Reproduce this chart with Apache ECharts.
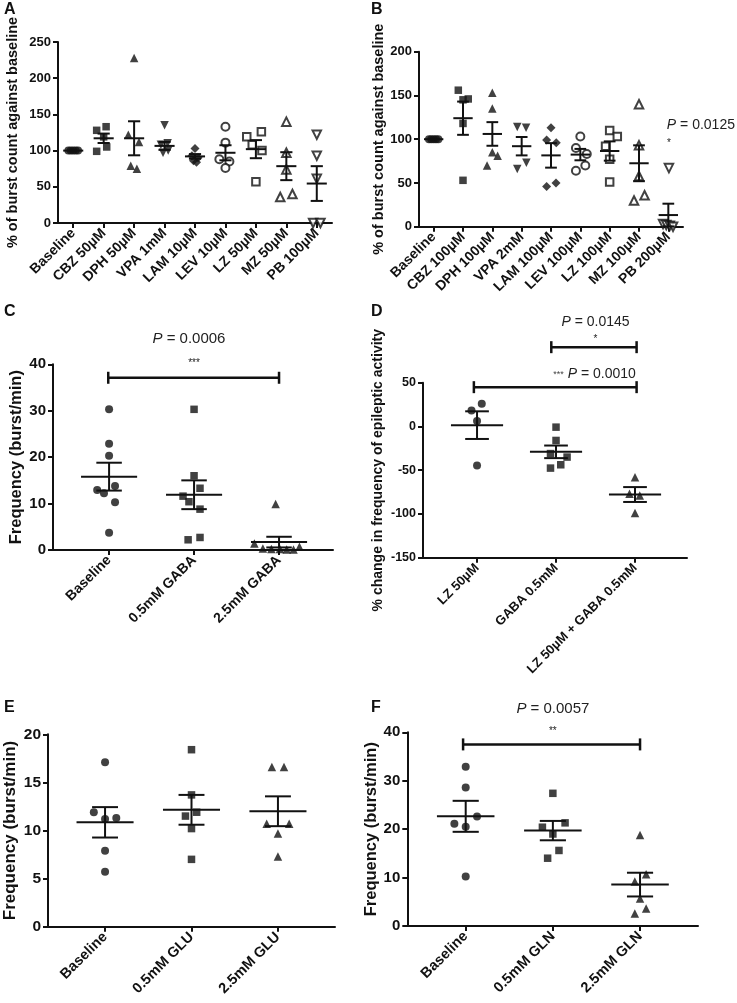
<!DOCTYPE html>
<html><head><meta charset="utf-8">
<script src="https://cdn.jsdelivr.net/npm/echarts@6/dist/echarts.min.js"></script>
<style>html,body{margin:0;padding:0;background:#fff}#c{width:737px;height:1003px}</style>
</head><body><div id="c"></div>
<script>
// ================= DATA =================
// Panel A
const catsA = ['Baseline','CBZ 50µM','DPH 50µM','VPA 1mM','LAM 10µM','LEV 10µM','LZ 50µM','MZ 50µM','PB 100µM'];
const valsA = [
  [100,100,100,100,100],
  [133,128,119,105,99],
  [228,122,112,79,75],
  [135,110,108,100,97],
  [103,93,90,86,84],
  [133,111,88,85,76],
  [126,119,108,100,57],
  [140,97,74,40,36],
  [122,93,61,0,0]
];
const meanA = [100,117,117,106.5,92,97,102,78.5,54.5];
const semA  = [0,6.5,23.5,5.5,3.2,10.4,12.5,19.3,24];
const titleA = '% of burst count against baseline';

// Panel B
const catsB = ['Baseline','CBZ 100µM','DPH 100µM','VPA 2mM','LAM 100µM','LEV 100µM','LZ 100µM','MZ 100µM','PB 200µM'];
const valsB = [
  [100,100,100,100,100],
  [156,145,146,118,53],
  [153,135,85,81,70],
  [114,113,73,66],
  [113,99,96,50,46],
  [103,90,83,70,64],
  [110,103,92,77,51],
  [140,93,58,36,30],
  [67,3,2,1,0]
];
const meanB = [100,124,106,92,81.5,82.4,86.5,72.5,13.3];
const semB  = [0,19,13.5,10.5,14,6.5,11,20.5,13];
const titleB = '% of burst count against baseline';
const pB = '0.0125';

// Panel C
const catsC = ['Baseline','0.5mM GABA','2.5mM GABA'];
const valsC = [
  [30.3,22.9,20.3,13.8,12.9,12.2,10.3,3.7],
  [30.3,16,13.3,11.6,10.4,8.8,2.7,2.2],
  [9.9,1.4,0.7,0.3,0.2,0.2,0.1,0.1]
];
const meanC = [15.8,11.9,1.7];
const semC  = [3.0,3.1,1.15];
const titleC = 'Frequency (burst/min)';
const pC = '0.0006';

// Panel D
const catsD = ['LZ 50µM','GABA 0.5mM','LZ 50µM + GABA 0.5mM'];
const valsD = [
  [25.9,18.3,6.1,-44.5],
  [-0.8,-16,-31,-35,-43.8,-47.6],
  [-58,-77,-79,-99]
];
const meanD = [1.5,-29,-77.8];
const semD  = [15.8,7.2,8.5];
const titleD = '% change in frequency of epileptic activity';
const pD1 = '0.0145', pD2 = '0.0010';

// Panel E
const catsE = ['Baseline','0.5mM GLU','2.5mM GLU'];
const valsE = [
  [17.1,11.9,11.2,11.3,7.9,5.7],
  [18.4,13.7,11.9,11.5,10.2,7.0],
  [16.6,16.6,10.7,10.7,9.7,7.3]
];
const meanE = [10.85,12.15,12.0];
const semE  = [1.58,1.55,1.55];
const titleE = 'Frequency (burst/min)';

// Panel F
const catsF = ['Baseline','0.5mM GLN','2.5mM GLN'];
const valsF = [
  [32.9,28.6,22.6,21.1,20.5,10.2],
  [27.4,21.3,20.4,19.0,15.6,14.0],
  [18.8,10.7,9.2,5.7,3.6,2.6]
];
const meanF = [22.65,19.7,8.55];
const semF  = [3.2,2.0,2.45];
const titleF = 'Frequency (burst/min)';
const pF = '0.0057';

// ================= LAYOUT (horizontal spread of points, positions, styles) =================
const jitA = [
  [-0.16,-0.08,0,0.08,0.16],[0.08,-0.23,0,0.1,-0.23],[0,-0.19,0.16,-0.11,0.09],
  [0,0.1,-0.12,0.12,-0.05],[0,-0.1,0.1,-0.05,0.05],[0,0,-0.2,0.13,0],
  [0.18,-0.3,-0.12,0.2,0],[0,0,0,0.2,-0.2],[0,0,0,-0.12,0.12]
];
const jitB = [
  [-0.16,-0.08,0,0.08,0.16],[-0.16,0,0.18,0,0],[0,0,0,0.18,-0.18],
  [-0.15,0.15,0.16,-0.15],[0,-0.15,0.18,0.17,-0.15],[0,-0.15,0.22,0.17,-0.15],
  [0,0.26,-0.14,0,0],[0,0,0,0.19,-0.17],[0.02,-0.18,-0.07,0.05,0.16]
];
const jitC = [
  [0,0,0,0.07,-0.14,-0.06,0.07,0],
  [0,0,0.07,-0.13,-0.06,0.07,0.07,-0.07],
  [-0.04,-0.29,0.24,-0.19,-0.09,0.01,0.09,0.17]
];
const jitD = [[0.06,-0.07,0,0],[0,0,-0.07,0.14,0.06,-0.07],[0,-0.07,0.06,0]];
const jitE = [[0,-0.13,0,0.13,0,0],[0,0,0.06,-0.07,0,0],[-0.07,0.07,-0.13,0.13,0,0]];
const jitF = [[0,0,0.13,-0.13,0,0],[0,0.14,-0.12,0,0.07,-0.06],[0,0.07,-0.06,0,0.07,-0.06]];

const FF = '"Liberation Sans", Arial, Helvetica, sans-serif';
const INK = '#111';
const SYM9 = ['circle','rect','triangle','triangleDown','diamond','circleO','rectO','triangleO','triangleDownO'];
const SYM3 = ['circle','rect','triangle'];

const panels = [
  {cats:catsA, vals:valsA, mean:meanA, sem:semA, jit:jitA, sym:SYM9, title:titleA,
   grid:{left:58,top:42,width:274,height:181}, x:[-0.5,8.5], y:[0,250,50],
   tickFs:13, catFs:14, nameFs:14.5, nameGap:38, mw:0.33, cw:0.2,
   brackets:[], notes:[]},
  {cats:catsB, vals:valsB, mean:meanB, sem:semB, jit:jitB, sym:SYM9, title:titleB,
   grid:{left:419,top:51.7,width:264,height:175}, x:[-0.5,8.5], y:[0,200,50],
   tickFs:13, catFs:14, nameFs:14.5, nameGap:31, mw:0.33, cw:0.2,
   brackets:[],
   notes:[{x:7.95, y:116, text:'{i|P} = '+pB, fs:14, align:'left'},
          {x:8.02, y:95.5, text:'*', fs:10, align:'center'}]},
  {cats:catsC, vals:valsC, mean:meanC, sem:semC, jit:jitC, sym:SYM3, title:titleC,
   grid:{left:53,top:364.3,width:280,height:185.7}, x:[-0.66,2.635], y:[0,40,10],
   tickFs:15, catFs:14, nameFs:16.5, nameGap:26, mw:0.33, cw:0.15,
   brackets:[[-0.01,2.0,37.1]],
   notes:[{x:1, y:40.2, text:'***', fs:10, align:'center'},
          {x:0.94, y:45.5, text:'{i|P} = '+pC, fs:15, align:'center'}]},
  {cats:catsD, vals:valsD, mean:meanD, sem:semD, jit:jitD, sym:SYM3, title:titleD,
   grid:{left:423,top:382.7,width:264,height:175}, x:[-0.684,2.658], y:[-150,50,50],
   tickFs:12.5, catFs:13, nameFs:14, nameGap:38, mw:0.33, cw:0.15,
   brackets:[[-0.04,2.02,44.9],[0.94,2.02,90.6]],
   notes:[{x:2.01, y:59.4, text:'{s|***} {i|P} = '+pD2, fs:14, align:'right'},
          {x:1.5, y:99.5, text:'*', fs:10, align:'center'},
          {x:1.5, y:119, text:'{i|P} = '+pD1, fs:14, align:'center'}]},
  {cats:catsE, vals:valsE, mean:meanE, sem:semE, jit:jitE, sym:SYM3, title:titleE,
   grid:{left:48,top:734.3,width:287,height:192.4}, x:[-0.66,2.66], y:[0,20,5],
   tickFs:15.5, catFs:14.5, nameFs:17, nameGap:29, mw:0.33, cw:0.15,
   brackets:[], notes:[]},
  {cats:catsF, vals:valsF, mean:meanF, sem:semF, jit:jitF, sym:SYM3, title:titleF,
   grid:{left:407.3,top:732.3,width:290.7,height:193.7}, x:[-0.67,2.665], y:[0,40,10],
   tickFs:15, catFs:14.5, nameFs:16.5, nameGap:27, mw:0.33, cw:0.15,
   brackets:[[-0.03,2.0,37.5]],
   notes:[{x:1, y:40.2, text:'**', fs:10, align:'center'},
          {x:1, y:44.8, text:'{i|P} = '+pF, fs:15, align:'center'}]}
];
const letters = [['A',4,2],['B',371,2],['C',4,304],['D',371,304],['E',4,700],['F',371,700]];

// ================= BUILD =================
function symbolStyle(s) {
  const open = s.endsWith('O');
  const base = open ? s.slice(0,-1) : s;
  let symbol = base, rot = 0, size = 8;
  if (base === 'triangleDown') { symbol = 'triangle'; rot = 180; }
  if (base === 'rect') size = 7.5;
  if (base === 'diamond') size = 9;
  if (base === 'triangle' || base === 'triangleDown') size = 8.5;
  return {symbol, symbolRotate: rot, symbolSize: size,
    itemStyle: open ? {color:'#fff', borderColor:INK, borderWidth:2} : {color:INK, borderWidth:0}};
}

const option = {
  animation:false, backgroundColor:'#fff',
  grid:[], xAxis:[], yAxis:[], series:[],
  graphic: letters.map(([t,l,tp]) => ({type:'text', left:l, top:tp,
    style:{text:t, font:'bold 16px '+FF, fill:INK}}))
};

panels.forEach((p, k) => {
  option.grid.push(Object.assign({}, p.grid));
  const idx = p.cats.map((_, i) => i);
  option.xAxis.push({
    type:'value', gridIndex:k, min:p.x[0], max:p.x[1],
    splitLine:{show:false},
    axisLine:{show:true, onZero:false, lineStyle:{color:INK, width:2}},
    axisTick:{show:true, customValues:idx, length:5, lineStyle:{color:INK, width:2}},
    axisLabel:{customValues:idx, rotate:45, margin:8, formatter:(v)=>p.cats[Math.round(v)],
      fontFamily:FF, fontWeight:'bold', fontSize:p.catFs, color:INK}
  });
  option.yAxis.push({
    type:'value', gridIndex:k, min:p.y[0], max:p.y[1], interval:p.y[2],
    splitLine:{show:false},
    axisLine:{show:true, onZero:false, lineStyle:{color:INK, width:2}},
    axisTick:{show:true, length:5, lineStyle:{color:INK, width:2}},
    axisLabel:{margin:7, fontFamily:FF, fontWeight:'bold', fontSize:p.tickFs, color:INK},
    name:p.title, nameLocation:'middle', nameGap:p.nameGap, nameRotate:90,
    nameTextStyle:{fontFamily:FF, fontWeight:'bold', fontSize:p.nameFs, color:INK}
  });
  // points
  p.vals.forEach((arr, i) => {
    const st = symbolStyle(p.sym[i]);
    option.series.push(Object.assign({
      type:'scatter', xAxisIndex:k, yAxisIndex:k, z:2, silent:true,
      data: arr.map((v, j) => [i + (p.jit[i][j] || 0), v])
    }, st));
  });
  // mean ± SEM
  option.series.push({
    type:'custom', xAxisIndex:k, yAxisIndex:k, z:3, silent:true, clip:false,
    data: p.mean.map((m, i) => [i, m, p.sem[i]]),
    renderItem: (params, api) => {
      const i = api.value(0), m = api.value(1), s = api.value(2);
      const c = api.coord([i, m]);
      const u = api.size([1, 0])[0];
      const st = {stroke:INK, lineWidth:2};
      const ch = [{type:'line', shape:{x1:c[0]-p.mw*u, y1:c[1], x2:c[0]+p.mw*u, y2:c[1]}, style:st}];
      if (s > 0) {
        const hi = api.coord([i, m+s]), lo = api.coord([i, m-s]);
        ch.push({type:'line', shape:{x1:c[0], y1:hi[1], x2:c[0], y2:lo[1]}, style:st});
        ch.push({type:'line', shape:{x1:c[0]-p.cw*u, y1:hi[1], x2:c[0]+p.cw*u, y2:hi[1]}, style:st});
        ch.push({type:'line', shape:{x1:c[0]-p.cw*u, y1:lo[1], x2:c[0]+p.cw*u, y2:lo[1]}, style:st});
      }
      return {type:'group', children:ch};
    }
  });
  // significance brackets
  if (p.brackets.length) option.series.push({
    type:'custom', xAxisIndex:k, yAxisIndex:k, z:4, silent:true, clip:false,
    data: p.brackets,
    renderItem: (params, api) => {
      const a = api.coord([api.value(0), api.value(2)]);
      const b = api.coord([api.value(1), api.value(2)]);
      const st = {stroke:INK, lineWidth:2.5};
      return {type:'group', children:[
        {type:'line', shape:{x1:a[0], y1:a[1], x2:b[0], y2:b[1]}, style:st},
        {type:'line', shape:{x1:a[0], y1:a[1]-6, x2:a[0], y2:a[1]+6}, style:st},
        {type:'line', shape:{x1:b[0], y1:b[1]-6, x2:b[0], y2:b[1]+6}, style:st}
      ]};
    }
  });
  // annotation texts
  if (p.notes.length) option.series.push({
    type:'custom', xAxisIndex:k, yAxisIndex:k, z:4, silent:true, clip:false,
    data: p.notes.map(n => [n.x, n.y]),
    renderItem: (params, api) => {
      const n = p.notes[params.dataIndex];
      const c = api.coord([api.value(0), api.value(1)]);
      return {type:'text', x:c[0], y:c[1], style:{
        text:n.text, fill:'#222', fontFamily:FF, fontSize:n.fs,
        align:n.align, verticalAlign:'middle', textAlign:n.align, textVerticalAlign:'middle',
        rich:{
          i:{fontStyle:'italic', fontFamily:FF, fontSize:n.fs, fill:'#222', color:'#222'},
          s:{fontFamily:FF, fontSize:9, fill:'#444', color:'#444'}
        }
      }};
    }
  });
});

const chart = echarts.init(document.getElementById('c'), null, {renderer:'canvas'});
chart.setOption(option);
</script>
</body></html>
